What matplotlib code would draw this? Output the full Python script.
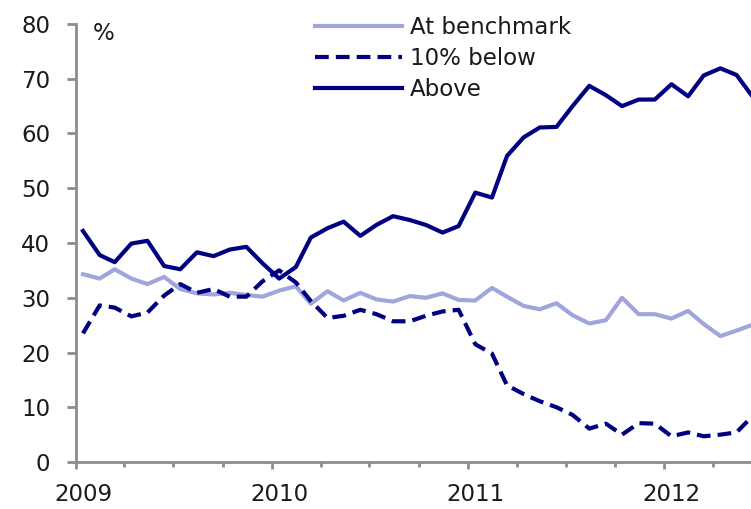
import matplotlib
matplotlib.use("Agg")
import matplotlib.pyplot as plt
import matplotlib.dates as mdates
from matplotlib.transforms import ScaledTranslation
import pandas as pd

# monthly survey shares, Jan 2009 onwards (%)
months = pd.date_range("2009-01-01", periods=42, freq="MS") + pd.Timedelta(days=13)

at_benchmark = [34.3, 33.5, 35.2, 33.5, 32.5, 33.8, 31.6, 30.8, 30.6, 30.9,
                30.5, 30.2, 31.3, 32.1, 28.9, 31.2, 29.5, 30.9, 29.7, 29.3,
                30.3, 30.0, 30.8, 29.6, 29.5, 31.8, 30.2, 28.5, 27.9, 29.0,
                26.8, 25.3, 25.9, 30.0, 27.0, 27.0, 26.2, 27.6, 25.2, 23.0,
                24.0, 25.1]
below_10 = [23.5, 28.6, 28.2, 26.6, 27.3, 30.4, 32.5, 30.9, 31.6, 30.2,
            30.2, 33.0, 35.0, 32.8, 29.4, 26.3, 26.7, 27.8, 27.0, 25.7,
            25.7, 26.7, 27.5, 27.8, 21.5, 19.8, 14.0, 12.4, 11.1, 10.0,
            8.6, 6.1, 7.0, 5.0, 7.1, 7.0, 4.7, 5.4, 4.7, 5.0,
            5.4, 8.5]
above = [42.2, 37.8, 36.5, 39.9, 40.4, 35.8, 35.2, 38.3, 37.6, 38.8,
         39.3, 36.3, 33.5, 35.6, 41.0, 42.7, 43.9, 41.3, 43.3, 44.9,
         44.2, 43.3, 41.9, 43.1, 49.2, 48.3, 55.9, 59.3, 61.1, 61.2,
         65.0, 68.7, 67.0, 65.0, 66.2, 66.2, 69.0, 66.8, 70.6, 71.9,
         70.7, 66.6]

labels = ["At benchmark", "10% below", "Above"]
navy = "#000080"
light = "#a0a5dc"
grey = "#8c8c8c"
txt = "#1a1a1a"

plt.rcParams["font.family"] = ["DejaVu Sans"]
plt.rcParams["font.size"] = 16.5

fig = plt.figure(figsize=(7.51, 5.09), dpi=100)
ax = fig.add_axes([76 / 751, 47 / 509, 1 - 76 / 751, 438 / 509])

ax.plot(months, at_benchmark, color=light, lw=3.0, label=labels[0])
ax.plot(months, below_10, color=navy, lw=3.0, label=labels[1],
        dashes=(3.3, 1.7))
ax.plot(months, above, color=navy, lw=3.0, label=labels[2])

ax.set_ylim(0, 80)
ax.set_yticks(range(0, 81, 10))
ax.set_xlim(pd.Timestamp("2009-01-01"), pd.Timestamp("2012-06-10"))

ax.xaxis.set_major_locator(mdates.YearLocator())
ax.xaxis.set_major_formatter(mdates.DateFormatter("%Y"))
ax.xaxis.set_minor_locator(mdates.MonthLocator(bymonth=[4, 7, 10]))

for side in ["top", "right"]:
    ax.spines[side].set_visible(False)
for side in ["left", "bottom"]:
    ax.spines[side].set_color(grey)
    ax.spines[side].set_linewidth(2.0)

ax.tick_params(axis="y", length=6.5, width=2.0, color=grey, pad=12,
               labelcolor=txt)
ax.tick_params(axis="x", which="major", length=5.3, width=2.0, color=grey,
               pad=10, labelcolor=txt)
ax.tick_params(axis="x", which="minor", length=3.6, width=2.0, color=grey)

# year labels sit under the January point rather than on the tick
shift = ScaledTranslation(7 / 100, 0, fig.dpi_scale_trans)
for lab in ax.get_xticklabels():
    lab.set_transform(lab.get_transform() + shift)

ax.text(17 / 675, 1.004, "%", transform=ax.transAxes, ha="left", va="top",
        color=txt)

fig.legend(loc="upper left", bbox_to_anchor=(315 / 751, 1 - 16.5 / 509),
           frameon=False, borderpad=0, borderaxespad=0, handlelength=3.8,
           handletextpad=0.33, labelspacing=0.33, labelcolor=txt)

fig.savefig("out.png", dpi=100)
